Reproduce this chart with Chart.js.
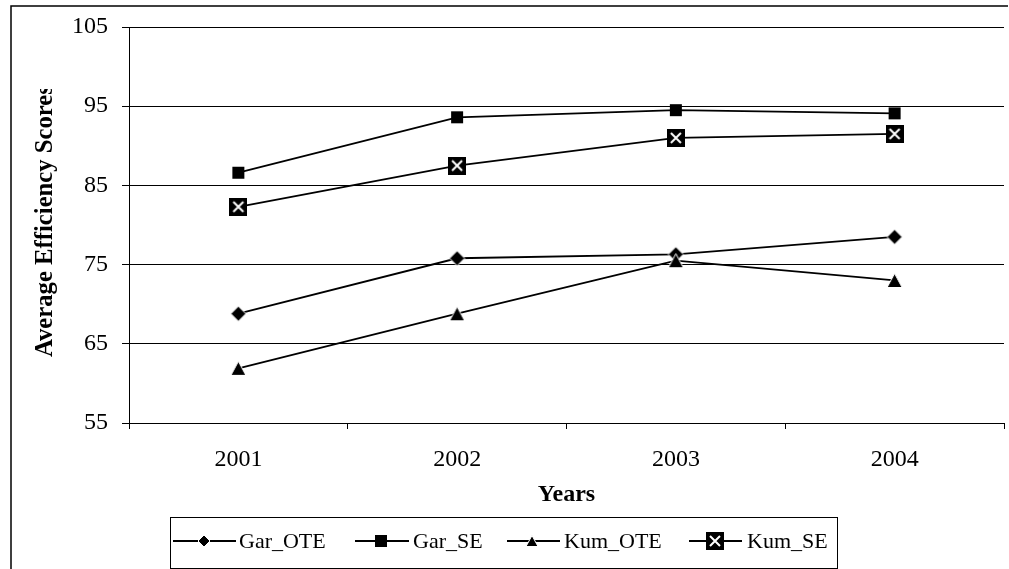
<!DOCTYPE html>
<html>
<head>
<meta charset="utf-8">
<script src="https://cdn.jsdelivr.net/npm/chart.js@4/dist/chart.umd.min.js"></script>
<style>
  html, body { margin: 0; padding: 0; background: #fff; }
  #wrap { position: relative; width: 1009px; height: 569px; }
</style>
</head>
<body>
<div id="wrap"><canvas id="c" width="1009" height="569"></canvas></div>
<script>
// Average efficiency scores by year
const years = ['2001', '2002', '2003', '2004'];
const garOTE = [68.8, 75.8, 76.3, 78.5];
const garSE  = [86.6, 93.6, 94.5, 94.1];
const kumOTE = [61.9, 68.8, 75.5, 73.0];
const kumSE  = [82.3, 87.5, 91.0, 91.5];
const yTicks = [55, 65, 75, 85, 95, 105];
const seriesNames = ['Gar_OTE', 'Gar_SE', 'Kum_OTE', 'Kum_SE'];

const SERIF = '"Liberation Serif", "Times New Roman", serif';

// marker sprites, each centred on its own canvas
function sprite(size, paint) {
  const cv = document.createElement('canvas');
  cv.width = size; cv.height = size;
  paint(cv.getContext('2d'), size / 2);
  return cv;
}
function diamond(half) {
  return sprite(Math.ceil(half * 2 + 4), (g, c) => {
    g.beginPath();
    g.moveTo(c, c - half); g.lineTo(c + half, c); g.lineTo(c, c + half); g.lineTo(c - half, c);
    g.closePath();
    g.fillStyle = '#000'; g.fill();
    g.strokeStyle = '#fff'; g.lineWidth = 1; g.stroke();
  });
}
function square(side) {
  return sprite(side + 2, (g, c) => {
    g.fillStyle = '#000';
    g.fillRect(c - side / 2, c - side / 2, side, side);
  });
}
function triangle(w, h) {
  return sprite(Math.ceil(Math.max(w, h) + 4), (g, c) => {
    g.beginPath();
    g.moveTo(c, c - h / 2); g.lineTo(c + w / 2, c + h / 2); g.lineTo(c - w / 2, c + h / 2);
    g.closePath();
    g.fillStyle = '#000'; g.fill();
    g.strokeStyle = '#fff'; g.lineWidth = 1; g.stroke();
  });
}
function crossBox(side) {
  return sprite(side, (g, c) => {
    g.fillStyle = '#000';
    g.fillRect(0, 0, side, side);
    g.strokeStyle = '#fff';
    g.lineWidth = 2;
    const p = 4;
    g.beginPath();
    g.moveTo(p, p); g.lineTo(side - p, side - p);
    g.moveTo(side - p, p); g.lineTo(p, side - p);
    g.stroke();
  });
}

const plotMarkers = [diamond(7.5), square(12), triangle(15, 14), crossBox(18)];
const legendMarkers = [diamond(6), square(12), triangle(12, 11), crossBox(18)];
const drawOrder = [4, 3, 2, 1];
const values = [garOTE, garSE, kumOTE, kumSE];

const datasets = values.map((v, i) => ({
  label: seriesNames[i],
  data: v,
  borderColor: '#000',
  borderWidth: 1.8,
  backgroundColor: '#000',
  pointStyle: plotMarkers[i],
  pointRadius: 1,
  pointBorderWidth: 0,
  tension: 0,
  fill: false,
  order: drawOrder[i]
}));

// frame, y-axis title, x-axis title and the boxed legend
const decor = {
  id: 'decor',
  afterDraw(chart) {
    const ctx = chart.ctx;
    ctx.save();

    // outer frame
    ctx.strokeStyle = '#000';
    ctx.lineWidth = 1.5;
    ctx.beginPath();
    ctx.moveTo(11, 600);
    ctx.lineTo(11, 6);
    ctx.lineTo(1008, 6);
    ctx.stroke();

    // y-axis title (clipped at the top)
    ctx.save();
    ctx.beginPath();
    ctx.rect(0, 89, 125, 500);
    ctx.clip();
    ctx.translate(52, 357);
    ctx.rotate(-Math.PI / 2);
    ctx.font = 'bold 24.7px ' + SERIF;
    ctx.fillStyle = '#000';
    ctx.textAlign = 'left';
    ctx.textBaseline = 'alphabetic';
    ctx.fillText('Average Efficiency Scores', 0, 0);
    ctx.restore();

    // x-axis title
    const area = chart.chartArea;
    ctx.font = 'bold 24px ' + SERIF;
    ctx.fillStyle = '#000';
    ctx.textAlign = 'center';
    ctx.textBaseline = 'middle';
    ctx.fillText('Years', (area.left + area.right) / 2, 495);

    // legend box
    ctx.lineWidth = 1;
    ctx.strokeStyle = '#000';
    ctx.strokeRect(170.5, 517.5, 667, 51);

    const ly = 541;
    const items = [
      { x0: 173, x1: 236, mx: 204, tx: 239 },
      { x0: 355, x1: 409, mx: 381, tx: 413 },
      { x0: 507, x1: 560, mx: 532, tx: 564 },
      { x0: 689, x1: 742, mx: 715, tx: 747 }
    ];
    ctx.font = '22px ' + SERIF;
    ctx.textAlign = 'left';
    ctx.textBaseline = 'middle';
    items.forEach((it, i) => {
      ctx.lineWidth = 1.8;
      ctx.beginPath();
      ctx.moveTo(it.x0, ly);
      ctx.lineTo(it.x1, ly);
      ctx.stroke();
      const m = legendMarkers[i];
      ctx.drawImage(m, Math.round(it.mx - m.width / 2), Math.round(ly - m.height / 2));
      ctx.fillStyle = '#000';
      ctx.fillText(datasets[i].label, it.tx, ly + 1);
    });

    ctx.restore();
  }
};

new Chart(document.getElementById('c'), {
  type: 'line',
  data: { labels: years, datasets: datasets },
  options: {
    responsive: false,
    animation: false,
    layout: { padding: { left: 0, right: 5, top: 27, bottom: 0 } },
    plugins: { legend: { display: false }, tooltip: { enabled: false } },
    scales: {
      x: {
        type: 'category',
        offset: true,
        grid: { offset: true, drawOnChartArea: false, drawTicks: true, tickLength: 6, color: '#000', lineWidth: 1 },
        border: { display: true, color: '#000', width: 1 },
        ticks: { color: '#000', font: { family: SERIF, size: 24 }, padding: 16, maxRotation: 0 },
        afterFit(s) { s.height = 146; s.paddingLeft = 0; s.paddingRight = 0; }
      },
      y: {
        min: 55,
        max: 105,
        afterBuildTicks(s) { s.ticks = yTicks.map(v => ({ value: v })); },
        grid: { drawOnChartArea: true, drawTicks: true, tickLength: 7, color: '#000', lineWidth: 1 },
        border: { display: true, color: '#000', width: 1 },
        ticks: { color: '#000', font: { family: SERIF, size: 24 }, padding: 14 },
        afterFit(s) { s.width = 129; s.paddingTop = 0; s.paddingBottom = 0; }
      }
    }
  },
  plugins: [decor]
});
</script>
</body>
</html>
